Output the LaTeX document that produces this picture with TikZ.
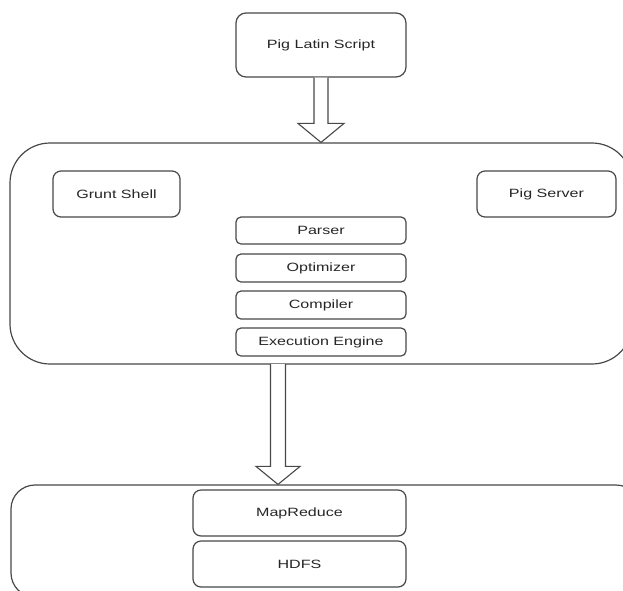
\documentclass[tikz,border=0pt]{standalone}
\usepackage{fontspec}
\setmainfont{Liberation Sans}[FakeStretch=1.34]
\usetikzlibrary{calc}
\definecolor{ln}{HTML}{484848}
\begin{document}
\begin{tikzpicture}[x=1pt,y=-1pt,
  box/.style={draw=ln, line width=1.2pt, fill=white, rounded corners=#1, inner sep=0pt,
    font=\fontsize{12}{14}\selectfont, text=black!85},
  box/.default=8pt,
  blockarrow/.style={draw=ln, line width=1.1pt, fill=white, line join=miter}]
\useasboundingbox (0,0) rectangle (623,590);
\clip (0,0) rectangle (623,590);
% containers
\node[box=40pt, minimum width=622pt, minimum height=221pt] (main) at (321,253.5) {};
\node[box=24pt, minimum width=629pt, minimum height=112pt] (base) at (325.5,541) {};
% top
\node[box=10pt, minimum width=170pt, minimum height=64pt] (pls) at (321,45) {Pig Latin Script};
% inside main
\node[box, minimum width=127pt, minimum height=46pt] (grunt) at (116.5,194) {Grunt Shell};
\node[box, minimum width=139pt, minimum height=46pt] (server) at (546.5,194) {Pig Server};
\node[box=5pt, minimum width=170pt, minimum height=27pt] (parser) at (321,230.5) {Parser};
\node[box=5pt, minimum width=170pt, minimum height=28pt] (opt) at (321,268) {Optimizer};
\node[box=5pt, minimum width=170pt, minimum height=28pt] (comp) at (321,305) {Compiler};
\node[box=5pt, minimum width=170pt, minimum height=28pt] (exec) at (321,342) {Execution Engine};
% bottom
\node[box, minimum width=213pt, minimum height=46pt] (mr) at (299.5,513) {MapReduce};
\node[box, minimum width=213pt, minimum height=46pt] (hdfs) at (299.5,564) {HDFS};
% block arrow 1
\coordinate (t1) at (pls.south |- main.north);
\draw[blockarrow] ($(pls.south)+(-7,0)$) -- ($(t1)+(-7,-19)$) -- ($(t1)+(-23,-19)$) -- (t1)
  -- ($(t1)+(23,-19)$) -- ($(t1)+(7,-19)$) -- ($(pls.south)+(7,0)$);
% block arrow 2
\coordinate (s2) at (278,364);
\coordinate (t2) at (s2 |- base.north);
\draw[blockarrow] ($(s2)+(-7.5,0)$) -- ($(t2)+(-7.5,-18)$) -- ($(t2)+(-22,-18)$) -- (t2)
  -- ($(t2)+(22,-18)$) -- ($(t2)+(7.5,-18)$) -- ($(s2)+(7.5,0)$);
\end{tikzpicture}
\end{document}
